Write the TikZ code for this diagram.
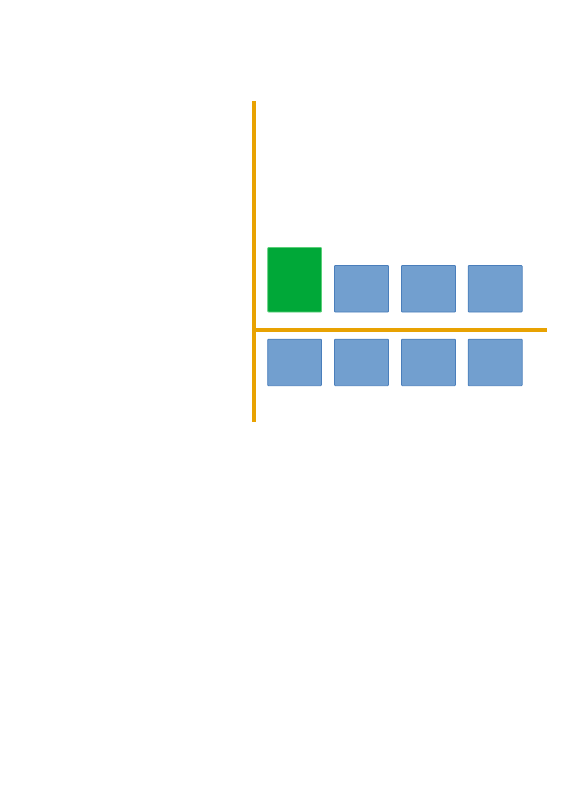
\documentclass[tikz,border=0pt]{standalone}
\usetikzlibrary{positioning}
\definecolor{axisorange}{HTML}{E8A202}
\definecolor{boxblue}{HTML}{729FCF}
\definecolor{boxblueline}{HTML}{4A7EBB}
\definecolor{boxgreen}{HTML}{00A838}
\definecolor{boxgreenline}{HTML}{5ACF78}
\begin{document}
\begin{tikzpicture}[x=1pt,y=-1pt,
  axis/.style={draw=axisorange,line width=4pt},
  bluebox/.style={fill=boxblue,draw=boxblueline,line width=0.8pt,rounded corners=0.8pt},
  greenbox/.style={fill=boxgreen,draw=boxgreenline,line width=0.8pt,rounded corners=0.8pt}]
\useasboundingbox (0,0) rectangle (565,800);
\coordinate (vtop) at (254,101);
\coordinate (vbot) at (254,422);
\coordinate (hleft) at (254,330);
\coordinate (hright) at (547,330);
\draw[axis] (vtop) -- (vbot);
\draw[axis] (hleft) -- (hright);
\path[greenbox] (267.7,247.5) rectangle (321.5,312) node[coordinate] (g1) {};
\path[bluebox] (334.5,265.5) rectangle (388.5,312) node[coordinate] (b1) {};
\path[bluebox] (401.5,265.5) rectangle (455.5,312) node[coordinate] (b2) {};
\path[bluebox] (468.2,265.5) rectangle (522.2,312) node[coordinate] (b3) {};
\path[bluebox] (267.7,339.2) rectangle (321.5,385.7) node[coordinate] (c0) {};
\path[bluebox] (334.5,339.2) rectangle (388.5,385.7) node[coordinate] (c1) {};
\path[bluebox] (401.5,339.2) rectangle (455.5,385.7) node[coordinate] (c2) {};
\path[bluebox] (468.2,339.2) rectangle (522.2,385.7) node[coordinate] (c3) {};
\end{tikzpicture}
\end{document}
